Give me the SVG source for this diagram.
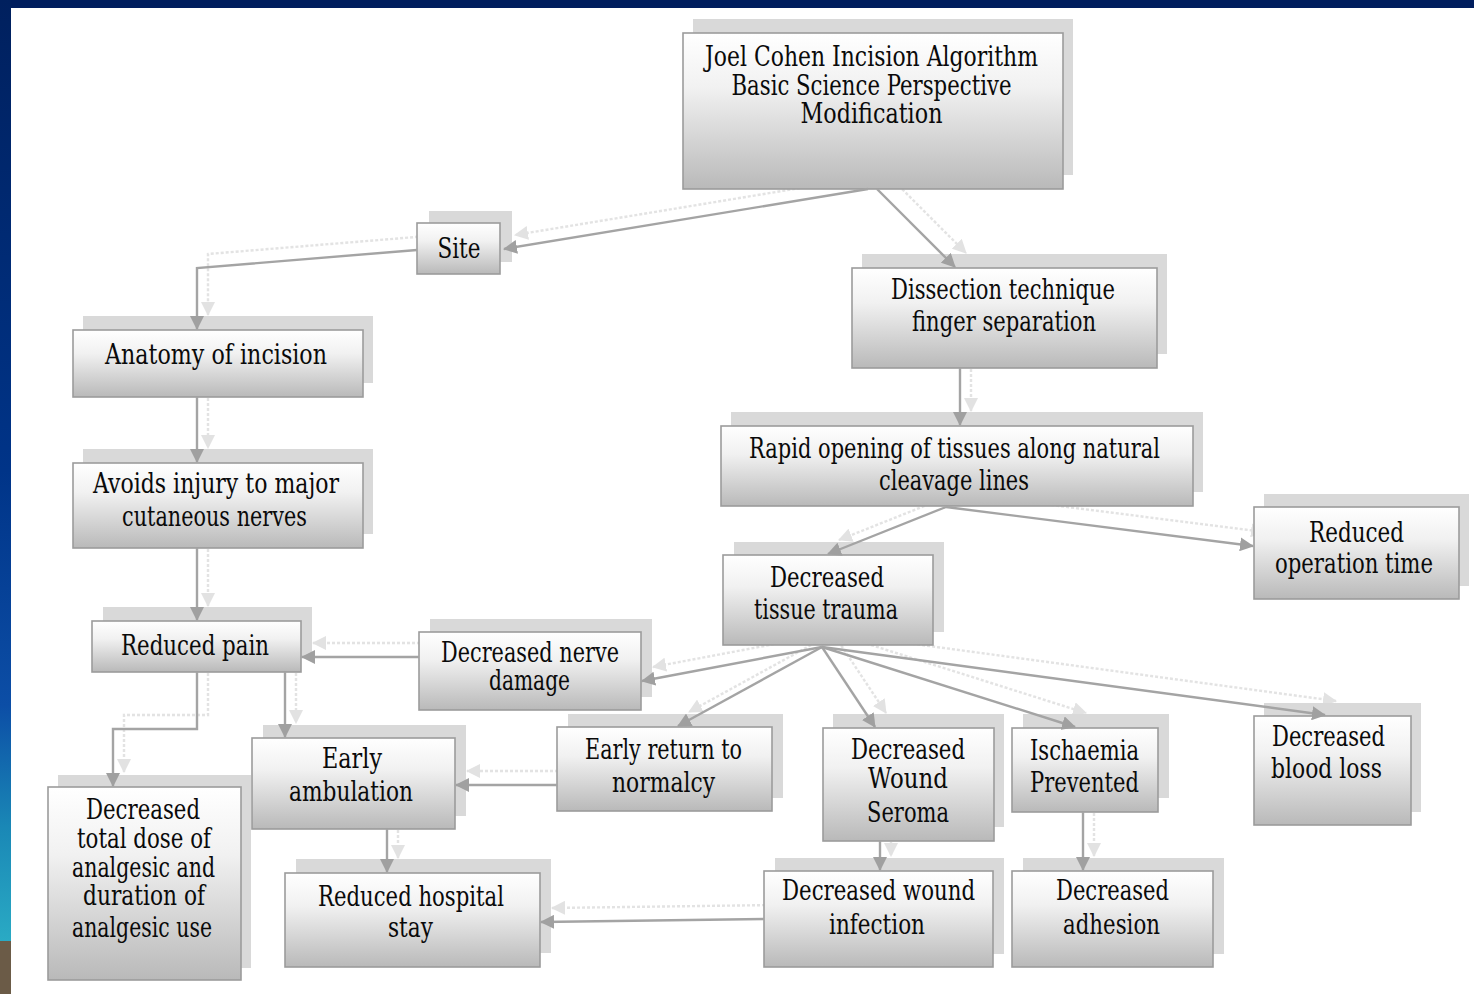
<svg xmlns="http://www.w3.org/2000/svg" xmlns:xlink="http://www.w3.org/1999/xlink" width="1474" height="994" viewBox="0 0 1474 994">
<defs>
<style>
.box{fill:url(#boxg);stroke:#9c9c9c;stroke-width:1.6}
.sh{fill:#d9d9d9}
.t{font-family:"DejaVu Serif","Liberation Serif",serif;font-size:27px;fill:#0a0a0a;text-anchor:middle}
.c{fill:none;stroke:#a4a4a4;stroke-width:2.4;marker-end:url(#ah)}
</style>
<linearGradient id="boxg" x1="0" y1="0" x2="0" y2="1">
<stop offset="0" stop-color="#ffffff"/>
<stop offset="0.35" stop-color="#f1f1f1"/>
<stop offset="1" stop-color="#b9b9b9"/>
</linearGradient>
<linearGradient id="leftg" x1="0" y1="0" x2="0" y2="1">
<stop offset="0" stop-color="#00205e"/>
<stop offset="0.5" stop-color="#003488"/>
<stop offset="0.75" stop-color="#0c4ea6"/>
<stop offset="0.88" stop-color="#1a88b6"/>
<stop offset="1" stop-color="#2aaac4"/>
</linearGradient>
<marker id="ah" viewBox="0 0 14 14" refX="13" refY="7" markerWidth="14" markerHeight="14" markerUnits="userSpaceOnUse" orient="auto">
<path d="M0,0 L14,7 L0,14 Z" fill="#a0a0a0"/>
</marker>
</defs>
<rect x="0" y="0" width="1474" height="994" fill="#ffffff"/>
<rect x="0" y="0" width="1474" height="8" fill="#001e5e"/>
<rect x="0" y="0" width="11" height="941" fill="url(#leftg)"/>
<rect x="0" y="941" width="11" height="53" fill="#6b5b47"/>

<use xlink:href="#connectors" href="#connectors" transform="translate(11,-14)" opacity="0.3" stroke-dasharray="3,2"/>

<g id="nodes">
<g id="n-joel">
<rect class="sh" x="693" y="19" width="380" height="156"/>
<rect class="box" x="683" y="33" width="380" height="156"/>
<text class="t" x="871.5" y="66" textLength="333" lengthAdjust="spacingAndGlyphs">Joel Cohen Incision Algorithm</text>
<text class="t" x="871.5" y="95" textLength="280" lengthAdjust="spacingAndGlyphs">Basic Science Perspective</text>
<text class="t" x="871.5" y="123" textLength="142" lengthAdjust="spacingAndGlyphs">Modification</text>
</g>
<g id="n-site">
<rect class="sh" x="429" y="211" width="83" height="51"/>
<rect class="box" x="417" y="223" width="83" height="51"/>
<text class="t" x="459" y="258" textLength="43" lengthAdjust="spacingAndGlyphs">Site</text>
</g>
<g id="n-dissection">
<rect class="sh" x="862" y="254" width="305" height="100"/>
<rect class="box" x="852" y="268" width="305" height="100"/>
<text class="t" x="1003" y="299" textLength="224" lengthAdjust="spacingAndGlyphs">Dissection technique</text>
<text class="t" x="1004" y="331" textLength="184" lengthAdjust="spacingAndGlyphs">finger separation</text>
</g>
<g id="n-rapid">
<rect class="sh" x="731" y="412" width="472" height="80"/>
<rect class="box" x="721" y="426" width="472" height="80"/>
<text class="t" x="954.5" y="458" textLength="411" lengthAdjust="spacingAndGlyphs">Rapid opening of tissues along natural</text>
<text class="t" x="954" y="490" textLength="150" lengthAdjust="spacingAndGlyphs">cleavage lines</text>
</g>
<g id="n-anatomy">
<rect class="sh" x="83" y="316" width="290" height="67"/>
<rect class="box" x="73" y="330" width="290" height="67"/>
<text class="t" x="216" y="364" textLength="222" lengthAdjust="spacingAndGlyphs">Anatomy of incision</text>
</g>
<g id="n-avoids">
<rect class="sh" x="83" y="449" width="290" height="85"/>
<rect class="box" x="73" y="463" width="290" height="85"/>
<text class="t" x="216" y="493" textLength="246" lengthAdjust="spacingAndGlyphs">Avoids injury to major</text>
<text class="t" x="214.5" y="526" textLength="185" lengthAdjust="spacingAndGlyphs">cutaneous nerves</text>
</g>
<g id="n-pain">
<rect class="sh" x="103" y="607" width="209" height="51"/>
<rect class="box" x="92" y="621" width="209" height="51"/>
<text class="t" x="195" y="655" textLength="148" lengthAdjust="spacingAndGlyphs">Reduced pain</text>
</g>
<g id="n-nerve">
<rect class="sh" x="430" y="619" width="222" height="78"/>
<rect class="box" x="419" y="632" width="222" height="78"/>
<text class="t" x="530" y="662" textLength="178" lengthAdjust="spacingAndGlyphs">Decreased nerve</text>
<text class="t" x="529.5" y="690" textLength="81" lengthAdjust="spacingAndGlyphs">damage</text>
</g>
<g id="n-trauma">
<rect class="sh" x="734" y="542" width="210" height="90"/>
<rect class="box" x="723" y="555" width="210" height="90"/>
<text class="t" x="827" y="587" textLength="114" lengthAdjust="spacingAndGlyphs">Decreased</text>
<text class="t" x="826" y="619" textLength="144" lengthAdjust="spacingAndGlyphs">tissue trauma</text>
</g>
<g id="n-optime">
<rect class="sh" x="1264" y="494" width="205" height="92"/>
<rect class="box" x="1254" y="507" width="205" height="92"/>
<text class="t" x="1356.5" y="542" textLength="95" lengthAdjust="spacingAndGlyphs">Reduced</text>
<text class="t" x="1354" y="573" textLength="158" lengthAdjust="spacingAndGlyphs">operation time</text>
</g>
<g id="n-ambulation">
<rect class="sh" x="263" y="725" width="203" height="91"/>
<rect class="box" x="252" y="738" width="203" height="91"/>
<text class="t" x="352" y="768" textLength="60" lengthAdjust="spacingAndGlyphs">Early</text>
<text class="t" x="351" y="801" textLength="124" lengthAdjust="spacingAndGlyphs">ambulation</text>
</g>
<g id="n-normalcy">
<rect class="sh" x="568" y="714" width="215" height="84"/>
<rect class="box" x="557" y="727" width="215" height="84"/>
<text class="t" x="663.5" y="759" textLength="157" lengthAdjust="spacingAndGlyphs">Early return to</text>
<text class="t" x="663.5" y="792" textLength="103" lengthAdjust="spacingAndGlyphs">normalcy</text>
</g>
<g id="n-seroma">
<rect class="sh" x="833" y="714" width="171" height="113"/>
<rect class="box" x="823" y="728" width="171" height="113"/>
<text class="t" x="908" y="759" textLength="114" lengthAdjust="spacingAndGlyphs">Decreased</text>
<text class="t" x="908" y="788" textLength="80" lengthAdjust="spacingAndGlyphs">Wound</text>
<text class="t" x="908" y="822" textLength="82" lengthAdjust="spacingAndGlyphs">Seroma</text>
</g>
<g id="n-ischaemia">
<rect class="sh" x="1023" y="714" width="146" height="84"/>
<rect class="box" x="1012" y="728" width="146" height="84"/>
<text class="t" x="1084.5" y="760" textLength="109" lengthAdjust="spacingAndGlyphs">Ischaemia</text>
<text class="t" x="1084.5" y="792" textLength="109" lengthAdjust="spacingAndGlyphs">Prevented</text>
</g>
<g id="n-bloodloss">
<rect class="sh" x="1264" y="703" width="157" height="109"/>
<rect class="box" x="1254" y="716" width="157" height="109"/>
<text class="t" x="1328.5" y="746" textLength="113" lengthAdjust="spacingAndGlyphs">Decreased</text>
<text class="t" x="1326.5" y="778" textLength="111" lengthAdjust="spacingAndGlyphs">blood loss</text>
</g>
<g id="n-dose">
<rect class="sh" x="58" y="775" width="193" height="193"/>
<rect class="box" x="48" y="787" width="193" height="193"/>
<text class="t" x="143" y="819" textLength="114" lengthAdjust="spacingAndGlyphs">Decreased</text>
<text class="t" x="144" y="848" textLength="134" lengthAdjust="spacingAndGlyphs">total dose of</text>
<text class="t" x="143.5" y="877" textLength="143" lengthAdjust="spacingAndGlyphs">analgesic and</text>
<text class="t" x="144" y="905" textLength="122" lengthAdjust="spacingAndGlyphs">duration of</text>
<text class="t" x="142" y="937" textLength="140" lengthAdjust="spacingAndGlyphs">analgesic use</text>
</g>
<g id="n-hospital">
<rect class="sh" x="296" y="859" width="255" height="94"/>
<rect class="box" x="285" y="873" width="255" height="94"/>
<text class="t" x="411" y="906" textLength="186" lengthAdjust="spacingAndGlyphs">Reduced hospital</text>
<text class="t" x="410.5" y="937" textLength="45" lengthAdjust="spacingAndGlyphs">stay</text>
</g>
<g id="n-infection">
<rect class="sh" x="775" y="858" width="229" height="96"/>
<rect class="box" x="764" y="871" width="229" height="96"/>
<text class="t" x="878.5" y="900" textLength="193" lengthAdjust="spacingAndGlyphs">Decreased wound</text>
<text class="t" x="877" y="934" textLength="96" lengthAdjust="spacingAndGlyphs">infection</text>
</g>
<g id="n-adhesion">
<rect class="sh" x="1023" y="858" width="201" height="96"/>
<rect class="box" x="1012" y="871" width="201" height="96"/>
<text class="t" x="1112.5" y="900" textLength="113" lengthAdjust="spacingAndGlyphs">Decreased</text>
<text class="t" x="1111.5" y="934" textLength="97" lengthAdjust="spacingAndGlyphs">adhesion</text>
</g>
</g>

<g id="connectors">
<path class="c" d="M868,189 L504,249"/>
<path class="c" d="M877,189 L955,267"/>
<path class="c" d="M417,250 L197,268 L197,329"/>
<path class="c" d="M197,397 L197,462"/>
<path class="c" d="M197,548 L197,620"/>
<path class="c" d="M197,672 L197,729 L113,729 L113,786"/>
<path class="c" d="M285,672 L285,737"/>
<path class="c" d="M419,657 L302,657"/>
<path class="c" d="M822,647 L642,681"/>
<path class="c" d="M822,647 L678,726"/>
<path class="c" d="M822,647 L875,727"/>
<path class="c" d="M822,647 L1075,727"/>
<path class="c" d="M822,647 L1325,715"/>
<path class="c" d="M946,507 L828,554"/>
<path class="c" d="M946,507 L1253,546"/>
<path class="c" d="M960,368 L960,425"/>
<path class="c" d="M557,785 L456,785"/>
<path class="c" d="M387,829 L387,872"/>
<path class="c" d="M764,919 L541,922"/>
<path class="c" d="M880,841 L880,870"/>
<path class="c" d="M1083,812 L1083,870"/>
</g>
</svg>
